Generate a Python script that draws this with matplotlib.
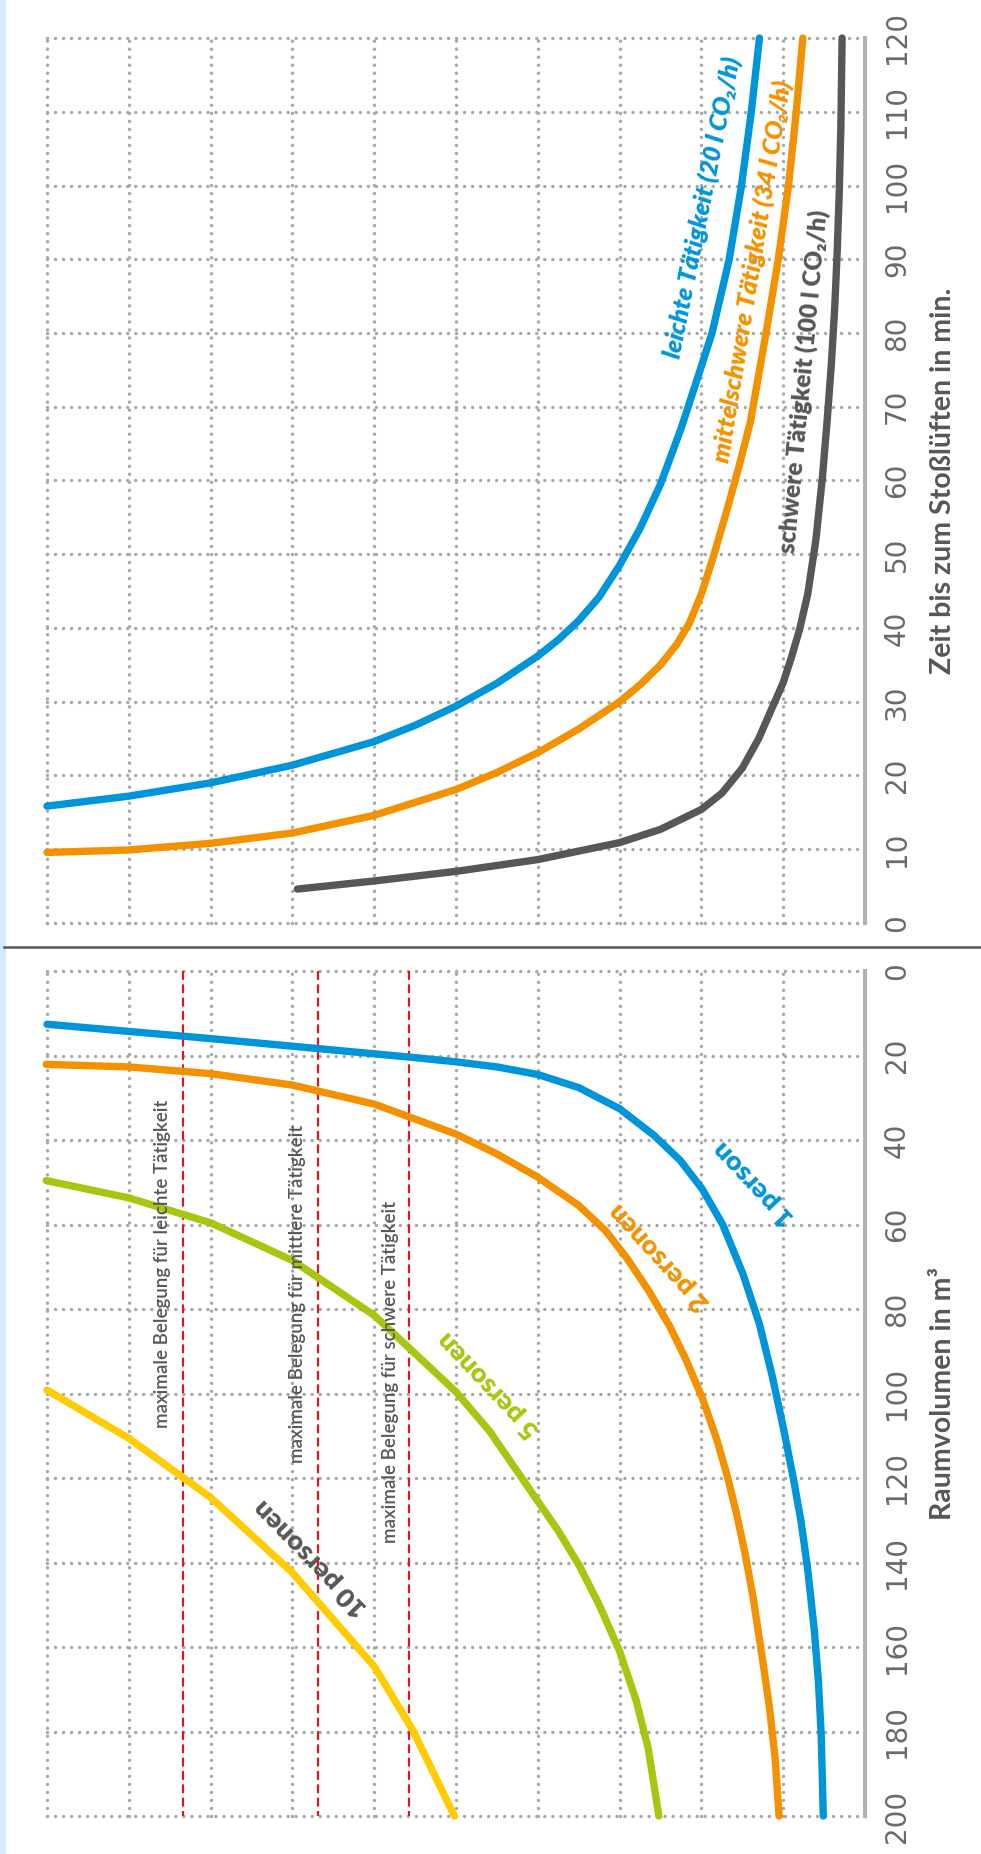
import matplotlib.pyplot as plt
from matplotlib.lines import Line2D
from matplotlib.patches import Rectangle

W, H = 981, 1854

# oberes Diagramm: Zeit bis zum Stosslueften (min) gegen die unbeschriftete Achse
# (Gitterteilung 0..10, 0 liegt an der grauen Achslinie rechts)
zeit_ticks = list(range(0, 121, 10))

leicht_u = [10, 9, 8, 7, 6, 5.5, 5, 4.5, 4, 3.75, 3.5, 3.25, 3.0, 2.75, 2.5, 2.25,
            2.0, 1.87, 1.66, 1.51, 1.39, 1.29]
leicht_t = [15.85, 17.2, 19.0, 21.4, 24.6, 26.8, 29.4, 32.5, 36.2, 38.4, 41.0, 44.2, 48.5,
            53.5, 59.5, 67.0, 75.5, 80, 90, 100, 110, 120]

mittel_u = [10, 9, 8, 7, 6, 5, 4.5, 4, 3.5, 3.0, 2.75, 2.5, 2.3, 2.15, 2.0, 1.85, 1.7,
            1.55, 1.4, 1.21, 1.06, 0.935, 0.84, 0.76]
mittel_t = [9.57, 9.9, 10.8, 12.2, 14.6, 18.1, 20.4, 23.1, 26.3, 30.0, 32.3, 35.0, 37.8,
            40.6, 44.6, 49.8, 55.5, 61.5, 68.0, 80, 90, 100, 110, 120]

schwer_u = [6.94, 6, 5, 4, 3, 2.5, 2.0, 1.75, 1.5, 1.3, 1.15, 1.0, 0.9, 0.8, 0.7, 0.6,
            0.52, 0.46, 0.41, 0.37, 0.34, 0.315, 0.295, 0.28]
schwer_t = [4.6, 5.7, 7.0, 8.6, 10.9, 12.7, 15.4, 17.6, 21.0, 25.0, 28.8, 32.6, 36.0,
            39.8, 44.6, 52.0, 60.5, 68.5, 76.0, 83.5, 91.0, 99, 108, 120]

# unteres Diagramm: Raumvolumen (m3)
volumen_ticks = list(range(0, 201, 20))

p1_u = [10, 9, 8, 7, 6, 5.5, 5, 4.5, 4, 3.5, 3.0, 2.58, 2.26, 1.99, 1.74, 1.49, 1.29,
        1.13, 0.99, 0.87, 0.78, 0.70, 0.62, 0.57, 0.535, 0.51]
p1_v = [12.6, 14.3, 16.0, 17.8, 19.6, 20.5, 21.5, 22.7, 24.5, 27.6, 32.6, 38.9, 44.8,
        51.6, 60.0, 71.8, 83.6, 96.2, 108.9, 120.7, 130.5, 141.7, 156, 168, 181, 200]

p2_u = [10.01, 9, 8, 7, 6, 5, 4.5, 4, 3.5, 3.17, 2.91, 2.65, 2.39, 2.20, 1.99, 1.81,
        1.68, 1.57, 1.47, 1.37, 1.26, 1.17, 1.10, 1.05]
p2_v = [22.1, 22.7, 24.3, 27.0, 31.5, 38.6, 43.3, 48.8, 55.5, 61.5, 68.0, 75.5, 84.0,
        91.5, 101.0, 111.0, 119.8, 128.5, 137.5, 148.0, 162.0, 174, 186, 200]

p5_u = [10.01, 9, 8, 7, 6, 5, 4.59, 4.0, 3.75, 3.5, 3.25, 3.0, 2.8, 2.65, 2.52]
p5_v = [49.6, 53.7, 59.6, 68.5, 81.5, 99.6, 108.9, 125.5, 132.5, 140.5, 150.0, 161.0,
        172.5, 184.0, 200]

p10_u = [10, 9, 8, 7, 6, 5.53, 5.02]
p10_v = [99.2, 110.6, 124.6, 142.4, 164.6, 179.6, 200]

# maximale Belegung (rote Linien)
belegung_u = [8.34, 6.69, 5.57]
belegung_text = ['maximale Belegung für leichte Tätigkeit',
                 'maximale Belegung für mittlere Tätigkeit',
                 'maximale Belegung für schwere Tätigkeit']

BLAU = '#0095d9'
ORANGE = '#f39200'
GRUEN = '#a8c60f'
GELB = '#ffcc00'
DUNKEL = '#575756'
ACHSE = '#b2b2b2'
PUNKTE = '#a9a9a9'
ROT = '#e2161d'

SANS = ['Lato', 'DejaVu Sans']
NARROW = ['Liberation Sans Narrow', 'DejaVu Sans']

fig = plt.figure(figsize=(W / 100, H / 100), dpi=100)
fig.patches.append(Rectangle((0, 0), 5 / W, 1, transform=fig.transFigure,
                             color='#d6e9f8', zorder=0))
fig.add_artist(Line2D([4 / W, 1], [1 - 947 / H] * 2, transform=fig.transFigure,
                      color=DUNKEL, lw=1.8))

left = 47 / W
width = (865 - 47) / W
ax1 = fig.add_axes([left, 1 - 923 / H, width, (923 - 38) / H])
ax2 = fig.add_axes([left, 1 - 1816 / H, width, (1816 - 971) / H])


def rahmen(ax, ticks):
    ax.set_xlim(10, 0)
    ax.set_xticks(range(11))
    ax.set_yticks(ticks)
    ax.tick_params(length=0, labelbottom=False, labelleft=False)
    for s in ['top', 'left', 'bottom']:
        ax.spines[s].set_visible(False)
    ax.spines['right'].set_color(ACHSE)
    ax.spines['right'].set_linewidth(2.9)
    ax.grid(True, color=PUNKTE, lw=2.5, linestyle=(0, (0.01, 2.3)),
            dash_capstyle='round')
    for gl in ax.get_xgridlines() + ax.get_ygridlines():
        gl.set_clip_on(False)
    ax.set_axisbelow(True)
    for v in ticks:
        ax.text(1.039, v, str(v), transform=ax.get_yaxis_transform(),
                rotation=90, ha='center', va='center', fontsize=20,
                color='#6a6a6a', family=NARROW)


rahmen(ax1, zeit_ticks)
ax1.set_ylim(0, 120)
rahmen(ax2, volumen_ticks)
ax2.set_ylim(200, 0)

kw = dict(lw=5.3, solid_capstyle='round', solid_joinstyle='round', clip_on=False)
ax1.plot(leicht_u, leicht_t, color=BLAU, **kw)
ax1.plot(mittel_u, mittel_t, color=ORANGE, **kw)
ax1.plot(schwer_u, schwer_t, color=DUNKEL, **kw)

ax1.text(1.99, 97.1, 'leichte Tätigkeit (20 l CO₂/h)', color=BLAU, rotation=78.6,
         rotation_mode='anchor', ha='center', va='center', fontsize=18,
         weight='heavy', style='italic', family=SANS)
ax1.text(1.38, 88.3, 'mittelschwere Tätigkeit (34 l CO₂/h)', color=ORANGE, rotation=80.7,
         rotation_mode='anchor', ha='center', va='center', fontsize=18,
         weight='heavy', style='italic', family=SANS)
ax1.text(0.75, 73.4, 'schwere Tätigkeit (100 l CO₂/h)', color=DUNKEL, rotation=84.6,
         rotation_mode='anchor', ha='center', va='center', fontsize=17.5,
         weight='heavy', family=SANS)
ax1.text(1.0954, 0.5, 'Zeit bis zum Stoßlüften in min.', transform=ax1.transAxes,
         rotation=90, ha='center', va='center', fontsize=20.5, weight='bold',
         color=DUNKEL, family=SANS)

for u in belegung_u:
    ax2.plot([u, u], [0, 200], color=ROT, lw=1.6, linestyle=(0, (4, 2)), zorder=1.5)

ax2.plot(p10_u, p10_v, color=GELB, **kw)
ax2.plot(p5_u, p5_v, color=GRUEN, **kw)
ax2.plot(p2_u, p2_v, color=ORANGE, **kw)
ax2.plot(p1_u, p1_v, color=BLAU, **kw)

for (u, v), txt in zip([(8.59, 69.3), (6.94, 76.4), (5.80, 95.0)], belegung_text):
    ax2.text(u, v, txt, rotation=90, ha='center', va='center', fontsize=13.5,
             weight='semibold', color=DUNKEL, family=SANS)

for (u, v, txt, col, rot) in [(1.36, 50.3, '1 person', BLAU, 133.2),
                              (2.52, 67.6, '2 personen', ORANGE, 132.5),
                              (4.60, 97.9, '5 personen', GRUEN, 133.3),
                              (6.78, 138.8, '10 personen', DUNKEL, 134)]:
    ax2.text(u, v, txt, color=col, rotation=rot, rotation_mode='anchor',
             ha='center', va='center', fontsize=19.5, weight='heavy', family=SANS)

ax2.text(1.0954, 0.5, 'Raumvolumen in m³', transform=ax2.transAxes,
         rotation=90, ha='center', va='center', fontsize=20.5, weight='bold',
         color=DUNKEL, family=SANS)

fig.savefig('out.png', dpi=100)
